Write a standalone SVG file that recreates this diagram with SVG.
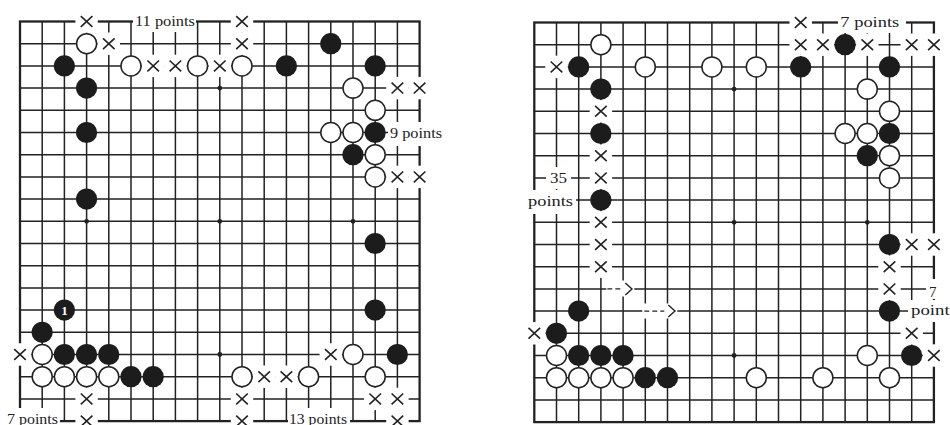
<svg xmlns="http://www.w3.org/2000/svg" xmlns:xlink="http://www.w3.org/1999/xlink" width="950" height="425" viewBox="0 0 950 425">
<style>
.ln{fill:none;stroke:#222;stroke-width:1.5}
.edge{fill:none;stroke:#222;stroke-width:2.3}
.ko{fill:#fff}
.t{font-family:"Liberation Serif","Times New Roman",serif;font-size:15px;fill:#222}
.num{font-family:"Liberation Serif","Times New Roman",serif;font-size:13px;font-weight:bold;fill:#fff;text-anchor:middle}
</style>
<defs>
<path id="grid" class="ln" d="M0 22.2H399.6M0 44.4H399.6M0 66.6H399.6M0 88.8H399.6M0 111H399.6M0 133.2H399.6M0 155.4H399.6M0 177.6H399.6M0 199.8H399.6M0 222H399.6M0 244.2H399.6M0 266.4H399.6M0 288.6H399.6M0 310.8H399.6M0 333H399.6M0 355.2H399.6M0 377.4H399.6M22.2 0V399.6M44.4 0V399.6M66.6 0V399.6M88.8 0V399.6M111 0V399.6M133.2 0V399.6M155.4 0V399.6M177.6 0V399.6M199.8 0V399.6M222 0V399.6M244.2 0V399.6M266.4 0V399.6M288.6 0V399.6M310.8 0V399.6M333 0V399.6M355.2 0V399.6M377.4 0V399.6"/>
<rect id="edge" class="edge" x="0" y="0" width="399.6" height="399.6"/>
<g id="hoshi" fill="#222">
<circle cx="66.6" cy="66.6" r="2.4"/><circle cx="199.8" cy="66.6" r="2.4"/><circle cx="333" cy="66.6" r="2.4"/>
<circle cx="66.6" cy="199.8" r="2.4"/><circle cx="199.8" cy="199.8" r="2.4"/><circle cx="333" cy="199.8" r="2.4"/>
<circle cx="66.6" cy="333" r="2.4"/><circle cx="199.8" cy="333" r="2.4"/><circle cx="333" cy="333" r="2.4"/>
</g>
<g id="X"><rect class="ko" x="-11.2" y="-11.2" width="22.4" height="22.4"/><path d="M-5.8 -5.4L5.8 5.4M-5.8 5.4L5.8 -5.4" stroke="#222" stroke-width="1.6" fill="none"/></g>
<circle id="B" r="10.6" fill="#1c1c1c"/>
<circle id="W" r="10" fill="#fff" stroke="#222" stroke-width="1.5"/>
<g id="stones">
<use href="#B" x="44.4" y="44.4"/><use href="#B" x="66.6" y="66.6"/><use href="#B" x="66.6" y="111"/><use href="#B" x="66.6" y="177.6"/>
<use href="#B" x="266.4" y="44.4"/><use href="#B" x="310.8" y="22.2"/><use href="#B" x="355.2" y="44.4"/><use href="#B" x="355.2" y="111"/>
<use href="#B" x="333" y="133.2"/><use href="#B" x="355.2" y="222"/><use href="#B" x="355.2" y="288.6"/><use href="#B" x="377.4" y="333"/>
<use href="#B" x="22.2" y="310.8"/><use href="#B" x="44.4" y="288.6"/><use href="#B" x="44.4" y="333"/><use href="#B" x="66.6" y="333"/>
<use href="#B" x="88.8" y="333"/><use href="#B" x="111" y="355.2"/><use href="#B" x="133.2" y="355.2"/>
<use href="#W" x="66.6" y="22.2"/><use href="#W" x="111" y="44.4"/><use href="#W" x="177.6" y="44.4"/><use href="#W" x="222" y="44.4"/>
<use href="#W" x="333" y="66.6"/><use href="#W" x="355.2" y="88.8"/><use href="#W" x="310.8" y="111"/><use href="#W" x="333" y="111"/>
<use href="#W" x="355.2" y="133.2"/><use href="#W" x="355.2" y="155.4"/><use href="#W" x="22.2" y="333"/><use href="#W" x="22.2" y="355.2"/>
<use href="#W" x="44.4" y="355.2"/><use href="#W" x="66.6" y="355.2"/><use href="#W" x="88.8" y="355.2"/><use href="#W" x="222" y="355.2"/>
<use href="#W" x="288.6" y="355.2"/><use href="#W" x="333" y="333"/><use href="#W" x="355.2" y="355.2"/>
</g>
</defs>
<rect width="950" height="425" fill="#fff"/>

<g id="board-left" transform="translate(20,21.5)">
<use href="#grid"/><use href="#edge"/><use href="#hoshi"/>
<g id="left-label-boxes">
<rect class="ko" x="113" y="-14" width="63" height="24.5"/>
<rect class="ko" x="368" y="100.5" width="58" height="24"/>
<rect class="ko" x="-20" y="386.5" width="60" height="20"/>
<rect class="ko" x="268" y="386.5" width="62" height="20"/>
</g>
<g id="left-marks">
<use href="#X" x="66.6" y="0"/><use href="#X" x="88.8" y="22.2"/><use href="#X" x="222" y="0"/><use href="#X" x="222" y="22.2"/>
<use href="#X" x="133.2" y="44.4"/><use href="#X" x="155.4" y="44.4"/><use href="#X" x="199.8" y="44.4"/>
<use href="#X" x="377.4" y="66.6"/><use href="#X" x="399.6" y="66.6"/><use href="#X" x="377.4" y="155.4"/><use href="#X" x="399.6" y="155.4"/>
<use href="#X" x="0" y="333"/><use href="#X" x="66.6" y="377.4"/><use href="#X" x="66.6" y="399.6"/>
<use href="#X" x="222" y="377.4"/><use href="#X" x="222" y="399.6"/><use href="#X" x="244.2" y="355.2"/><use href="#X" x="266.4" y="355.2"/>
<use href="#X" x="310.8" y="333"/><use href="#X" x="355.2" y="377.4"/><use href="#X" x="377.4" y="377.4"/><use href="#X" x="377.4" y="399.6"/>
</g>
<use href="#stones"/>
<text class="num" x="44.4" y="293.3">1</text>
<text class="t" x="115" y="4" textLength="60" lengthAdjust="spacingAndGlyphs">11 points</text>
<text class="t" x="370" y="116" textLength="52" lengthAdjust="spacingAndGlyphs">9 points</text>
<text class="t" x="-13" y="402" textLength="51" lengthAdjust="spacingAndGlyphs">7 points</text>
<text class="t" x="269" y="402" textLength="58" lengthAdjust="spacingAndGlyphs">13 points</text>
</g>

<g id="board-right" transform="translate(534.3,22.5)">
<use href="#grid"/><use href="#edge"/><use href="#hoshi"/>
<g id="right-label-boxes">
<rect class="ko" x="303.7" y="-14.5" width="68" height="25"/>
<rect class="ko" x="11.7" y="144.5" width="25" height="22"/>
<rect class="ko" x="-10.3" y="167.5" width="52" height="24"/>
<rect class="ko" x="391.7" y="256.5" width="19" height="20"/>
<rect class="ko" x="373.7" y="277.5" width="47" height="22"/>
<rect class="ko" x="72" y="258" width="28" height="16"/>
<rect class="ko" x="108" y="281" width="35" height="15"/>
</g>
<g id="right-arrows" fill="none" stroke="#222" stroke-width="1.4">
<path d="M73 266.4H88" stroke-dasharray="5 3"/>
<path d="M91 260.4L97.7 266.4L91 272.4"/>
<path d="M110 288.6H130" stroke-dasharray="5 3"/>
<path d="M134 282.6L140.7 288.6L134 294.6"/>
</g>
<g id="right-marks">
<use href="#X" x="22.2" y="44.4"/><use href="#X" x="66.6" y="88.8"/><use href="#X" x="66.6" y="133.2"/><use href="#X" x="66.6" y="155.4"/>
<use href="#X" x="66.6" y="199.8"/><use href="#X" x="66.6" y="222"/><use href="#X" x="66.6" y="244.2"/>
<use href="#X" x="266.4" y="0"/><use href="#X" x="266.4" y="22.2"/><use href="#X" x="288.6" y="22.2"/><use href="#X" x="333" y="22.2"/>
<use href="#X" x="377.4" y="22.2"/><use href="#X" x="399.6" y="22.2"/><use href="#X" x="377.4" y="222"/><use href="#X" x="399.6" y="222"/>
<use href="#X" x="355.2" y="244.2"/><use href="#X" x="355.2" y="266.4"/><use href="#X" x="377.4" y="310.8"/><use href="#X" x="399.6" y="333"/>
<use href="#X" x="0" y="310.8"/>
</g>
<use href="#stones"/>
<text class="t" x="306" y="4.2" textLength="59" lengthAdjust="spacingAndGlyphs">7 points</text>
<text class="t" x="15.7" y="160.8" textLength="17" lengthAdjust="spacingAndGlyphs">35</text>
<text class="t" x="-6.3" y="183.5" textLength="45" lengthAdjust="spacingAndGlyphs">points</text>
<text class="t" x="394.7" y="274">7</text>
<text class="t" x="376.7" y="292.5" textLength="46" lengthAdjust="spacingAndGlyphs">points</text>
</g>
</svg>
